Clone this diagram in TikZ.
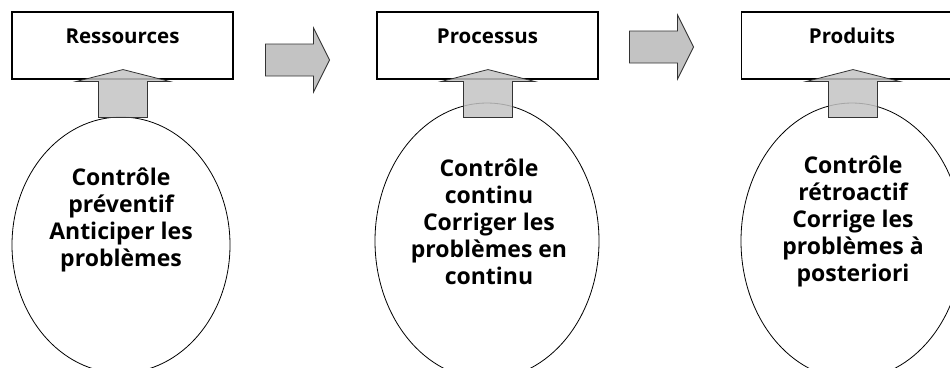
\documentclass[tikz,border=0pt]{standalone}
\usepackage{fontspec}
\setmainfont{Open Sans}
\usetikzlibrary{shapes.geometric,calc}
\definecolor{arrowfill}{HTML}{C3C3C3}
\definecolor{arrowline}{HTML}{333333}
\begin{document}
\begin{tikzpicture}[x=1pt,y=-1pt,
  stagebox/.style={draw, line width=1.1pt, minimum width=221pt, minimum height=67pt,
    inner sep=0pt, font=\bfseries\fontsize{20.5}{24}\selectfont, text height=15pt, text depth=20pt},
  bubble/.style={draw, line width=0.8pt, ellipse, inner sep=0pt},
  bubbletext/.style={align=center, inner sep=0pt, font=\bfseries\fontsize{23}{27}\selectfont},
  blockarrow/.style={draw=arrowline, line width=0.8pt, fill=arrowfill, line join=miter},
  pics/uparrow/.style={code={
    \draw[blockarrow, fill opacity=0.85] (-24.5,0) -- (-24.5,-36) -- (-47,-36) -- (0,-48)
      -- (47,-36) -- (24.5,-36) -- (24.5,0) -- cycle;}},
  pics/rightarrow/.style={code={
    \draw[blockarrow] (0,-16) -- (48,-16) -- (48,-32) -- (64,0) -- (48,32)
      -- (48,16) -- (0,16) -- cycle;}}
]
\useasboundingbox (0,0) rectangle (950,367);
\clip (0,0) rectangle (950,367);

% control ellipses
\node[bubble, minimum width=218pt, minimum height=256pt] (e1) at (121,245) {};
\node[bubble, minimum width=224pt, minimum height=276pt] (e2) at (487,241) {};
\node[bubble, minimum width=222pt, minimum height=276pt] (e3) at (852,241) {};

\node[bubbletext] (t1) at (121,220) {Contrôle\\préventif\\Anticiper les\\problèmes};
\node[bubbletext] (t2) at (489,222) {Contrôle\\continu\\Corriger les\\problèmes en\\continu};
\node[bubbletext] (t3) at (853,221) {Contrôle\\rétroactif\\Corrige les\\problèmes à\\posteriori};

% stage boxes
\node[stagebox] (b1) at (122.5,45.5) {Ressources};
\node[stagebox] (b2) at (487.5,45.5) {Processus};
\node[stagebox] (b3) at (852,45.5) {Produits};

% arrows from each control to its stage
\pic at ($(b1.south)+(0.5,38)$) {uparrow};
\pic at ($(b2.south)+(0.5,38)$) {uparrow};
\pic at ($(b3.south)+(1,38)$) {uparrow};

% arrows between stages
\pic at ($(b1.east)+(32,14.5)$) {rightarrow};
\pic at ($(b2.east)+(31,1.5)$) {rightarrow};
\end{tikzpicture}
\end{document}
